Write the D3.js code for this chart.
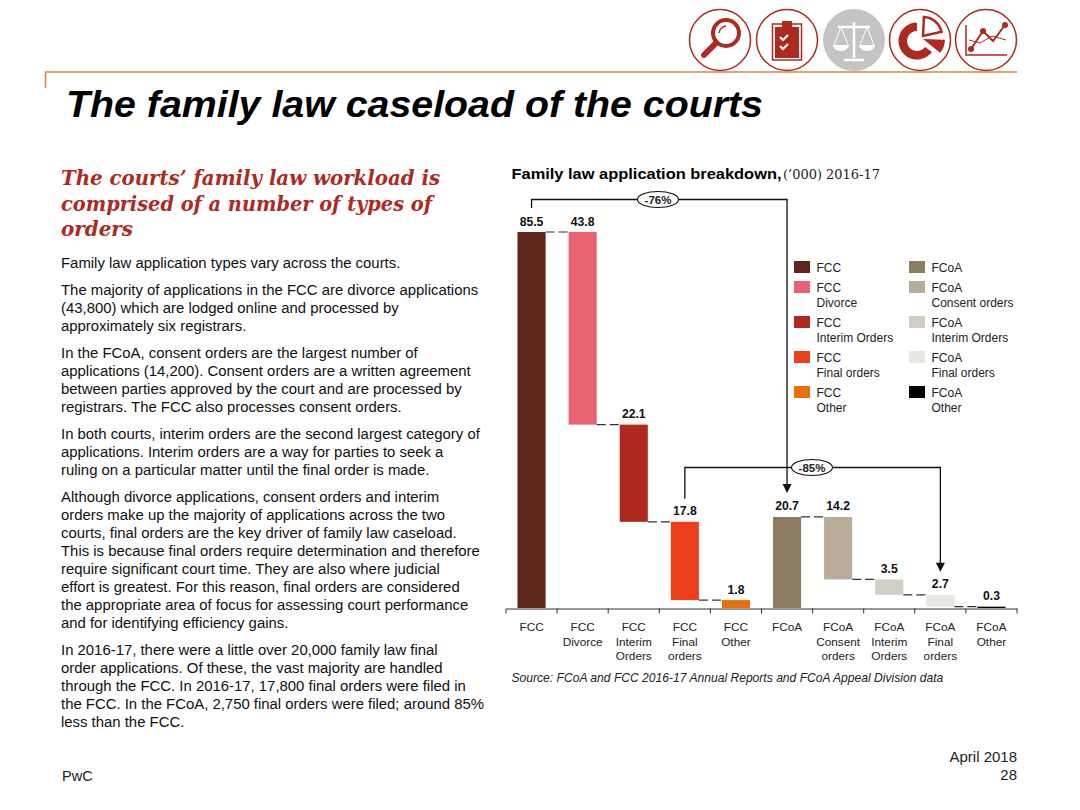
<!DOCTYPE html>
<html>
<head>
<meta charset="utf-8">
<script src="https://cdn.jsdelivr.net/npm/d3@7"></script>
<style>
  body { margin: 0; background: #fff; }
  svg { display: block; font-family: "Liberation Sans", sans-serif; }
</style>
</head>
<body>
<div id="chart"></div>
<script>
// chart data
const categories = ["FCC", "FCC Divorce", "FCC Interim", "FCC Final", "FCC Other", "FCoA", "FCoA Consent", "FCoA Interim", "FCoA Final", "FCoA Other"];
const tickLabels = [
    ["FCC"], ["FCC", "Divorce"], ["FCC", "Interim", "Orders"], ["FCC", "Final", "orders"], ["FCC", "Other"],
    ["FCoA"], ["FCoA", "Consent", "orders"], ["FCoA", "Interim", "Orders"], ["FCoA", "Final", "orders"], ["FCoA", "Other"]
];
const values = [85.5, 43.8, 22.1, 17.8, 1.8, 20.7, 14.2, 3.5, 2.7, 0.3];
const isTotal = [true, false, false, false, false, true, false, false, false, false];
const colors = ["#5f261b", "#e8636f", "#ae2a1e", "#ee3f1c", "#e8700c", "#8b7b60", "#b9ac98", "#d2cec6", "#e9e7e1", "#000000"];
const legendLabels = [
    ["FCC"], ["FCC", "Divorce"], ["FCC", "Interim Orders"], ["FCC", "Final orders"], ["FCC", "Other"],
    ["FCoA"], ["FCoA", "Consent orders"], ["FCoA", "Interim Orders"], ["FCoA", "Final orders"], ["FCoA", "Other"]
];

// slide text
const headingLines = ["The courts\u2019 family law workload is", "comprised of a number of types of", "orders"];
const headingWidths = [379, 371, 72];
const bodyLines = [
    [263, "Family law application types vary across the courts."],
    [290, "The majority of applications in the FCC are divorce applications"],
    [308, "(43,800) which are lodged online and processed by"],
    [326, "approximately six registrars."],
    [353, "In the FCoA, consent orders are the largest number of"],
    [371, "applications (14,200). Consent orders are a written agreement"],
    [389, "between parties approved by the court and are processed by"],
    [407, "registrars. The FCC also processes consent orders."],
    [434, "In both courts, interim orders are the second largest category of"],
    [452, "applications. Interim orders are a way for parties to seek a"],
    [470, "ruling on a particular matter until the final order is made."],
    [497, "Although divorce applications, consent orders and interim"],
    [515, "orders make up the majority of applications across the two"],
    [533, "courts, final orders are the key driver of family law caseload."],
    [551, "This is because final orders require determination and therefore"],
    [569, "require significant court time. They are also where judicial"],
    [587, "effort is greatest. For this reason, final orders are considered"],
    [605, "the appropriate area of focus for assessing court performance"],
    [623, "and for identifying efficiency gains."],
    [650, "In 2016-17, there were a little over 20,000 family law final"],
    [668, "order applications. Of these, the vast majority are handled"],
    [686, "through the FCC. In 2016-17, 17,800 final orders were filed in"],
    [704, "the FCC. In the FCoA, 2,750 final orders were filed; around 85%"],
    [722, "less than the FCC."]
];

const width = 1080;
const height = 810;
const red = "#ae2a1e";
const rule = "#d9873a";

const svg = d3.select("#chart").append("svg")
    .attr("width", width)
    .attr("height", height)
    .attr("viewBox", `0 0 ${width} ${height}`);

// scales
const xScale = d3.scaleBand().domain(categories).range([506, 1017]).paddingInner(0.45).paddingOuter(0.225);
const yScale = d3.scaleLinear().domain([0, 85.5]).range([608, 232]);

// waterfall: totals start from zero, the parts hang down from the running level
let running = 0;
const bars = categories.map((c, i) => {
    if (isTotal[i]) {
        running = values[i];
        return { c, i, top: values[i], bottom: 0, level: values[i], value: values[i] };
    }
    const top = running;
    running = top - values[i];
    return { c, i, top, bottom: running, level: running, value: values[i] };
});

// header rule
svg.append("path")
    .attr("d", "M45.5,88V72H1017")
    .attr("fill", "none")
    .attr("stroke", rule)
    .attr("stroke-width", 1.6);

// header icons
const icons = svg.append("g");
[720, 787, 854, 920, 986].forEach((cx, i) => {
    icons.append("circle")
        .attr("cx", cx).attr("cy", 40).attr("r", i === 2 ? 31 : 30.5)
        .attr("fill", i === 2 ? "#c4c4c4" : "#fff")
        .attr("stroke", i === 2 ? "none" : red)
        .attr("stroke-width", 1.5);
});
// magnifier
icons.append("circle").attr("cx", 726).attr("cy", 33).attr("r", 13).attr("fill", "none").attr("stroke", red).attr("stroke-width", 4);
icons.append("path").attr("d", "M716,43L704,55").attr("stroke", red).attr("stroke-width", 6).attr("stroke-linecap", "round");
icons.append("path").attr("d", "M719,33a8,8 0 0 1 7,-7").attr("fill", "none").attr("stroke", red).attr("stroke-width", 1.5);
// clipboard
icons.append("rect").attr("x", 772.5).attr("y", 24).attr("width", 29).attr("height", 36).attr("fill", "#fff").attr("stroke", red).attr("stroke-width", 1.5);
icons.append("rect").attr("x", 775).attr("y", 27).attr("width", 24).attr("height", 31).attr("fill", red);
icons.append("rect").attr("x", 782).attr("y", 21).attr("width", 10).attr("height", 6).attr("fill", red);
icons.append("path").attr("d", "M780,37l3,3l5,-5M780,46l3,3l5,-5").attr("fill", "none").attr("stroke", "#fff").attr("stroke-width", 2);
// scales of justice
icons.append("path").attr("d", "M854,22V58M844,60H864M838,27H870").attr("fill", "none").attr("stroke", "#fff").attr("stroke-width", 2.5);
icons.append("path").attr("d", "M833,45a8,6 0 0 0 16,0ZM859,45a8,6 0 0 0 16,0Z").attr("fill", "#fff");
icons.append("path").attr("d", "M841,27L834,45M841,27L848,45M867,27L860,45M867,27L874,45").attr("fill", "none").attr("stroke", "#fff").attr("stroke-width", 1);
// pie
const pieArc = d3.arc();
const pieParts = [
    { innerRadius: 10, outerRadius: 18.5, startAngle: 2.2, endAngle: 6.28, dx: 917, dy: 41 },
    { innerRadius: 0, outerRadius: 19, startAngle: 0.05, endAngle: 1.35, dx: 923, dy: 36 },
    { innerRadius: 0, outerRadius: 22, startAngle: 1.6, endAngle: 2.25, dx: 923, dy: 39 }
];
pieParts.forEach((p, i) => {
    icons.append("path")
        .attr("d", pieArc(p))
        .attr("transform", `translate(${p.dx},${p.dy})`)
        .attr("fill", i === 1 ? "#fff" : red)
        .attr("stroke", red)
        .attr("stroke-width", i === 1 ? 2.5 : 0);
});
// line chart icon
icons.append("path").attr("d", "M966,25V55H1007").attr("fill", "none").attr("stroke", red).attr("stroke-width", 1.5);
icons.append("path").attr("d", "M971,49L983,31L993,41L1005,25").attr("fill", "none").attr("stroke", red).attr("stroke-width", 2);
icons.append("path").attr("d", "M969,40L980,43L992,36L1006,40").attr("fill", "none").attr("stroke", red).attr("stroke-width", 1);
[[971, 49], [983, 31], [1005, 25]].forEach(([cx, cy]) => {
    icons.append("circle").attr("cx", cx).attr("cy", cy).attr("r", 3).attr("fill", red);
});

// title
svg.append("text")
    .attr("x", 66).attr("y", 117)
    .attr("font-size", 36).attr("font-weight", "bold").attr("font-style", "italic")
    .attr("textLength", 697).attr("lengthAdjust", "spacingAndGlyphs")
    .attr("fill", "#000")
    .text("The family law caseload of the courts");

// left heading
svg.selectAll(".heading").data(headingLines).join("text")
    .attr("class", "heading")
    .attr("x", 61)
    .attr("y", (d, i) => 185 + i * 25.5)
    .attr("font-family", "'DejaVu Serif', serif")
    .attr("font-size", 20)
    .attr("font-weight", "bold").attr("font-style", "italic")
    .attr("textLength", (d, i) => headingWidths[i]).attr("lengthAdjust", "spacingAndGlyphs")
    .attr("fill", red)
    .text(d => d);

// left body text
svg.selectAll(".body").data(bodyLines).join("text")
    .attr("class", "body")
    .attr("x", 61)
    .attr("y", d => d[0] + 5)
    .attr("font-size", 14.9)
    .attr("fill", "#111")
    .text(d => d[1]);

// chart title
svg.append("text")
    .attr("x", 511.5).attr("y", 179)
    .attr("font-size", 14).attr("font-weight", "bold")
    .attr("textLength", 270).attr("lengthAdjust", "spacingAndGlyphs")
    .attr("fill", "#000")
    .text("Family law application breakdown,");
svg.append("text")
    .attr("x", 783).attr("y", 179)
    .attr("font-family", "'DejaVu Serif', serif").attr("font-size", 13)
    .attr("textLength", 97).attr("lengthAdjust", "spacingAndGlyphs")
    .attr("fill", "#222")
    .text("(\u2019000) 2016-17");

// bars
svg.selectAll(".bar").data(bars).join("rect")
    .attr("class", "bar")
    .attr("x", d => xScale(d.c))
    .attr("y", d => yScale(d.top))
    .attr("width", xScale.bandwidth())
    .attr("height", d => yScale(d.bottom) - yScale(d.top))
    .attr("fill", (d, i) => colors[i]);

// dashed connectors between bars (none between the two courts)
svg.selectAll(".connector").data(bars.slice(0, -1).filter(d => !isTotal[d.i + 1])).join("line")
    .attr("class", "connector")
    .attr("x1", d => xScale(d.c) + xScale.bandwidth())
    .attr("x2", d => xScale(categories[d.i + 1]))
    .attr("y1", d => yScale(d.level))
    .attr("y2", d => yScale(d.level))
    .attr("stroke", "#333")
    .attr("stroke-width", 1.2)
    .attr("stroke-dasharray", "9 4");

// value labels
svg.selectAll(".value").data(bars).join("text")
    .attr("class", "value")
    .attr("x", d => xScale(d.c) + xScale.bandwidth() / 2)
    .attr("y", d => yScale(d.top) - 6.5)
    .attr("text-anchor", "middle")
    .attr("font-size", 12.2)
    .attr("font-weight", "bold")
    .attr("fill", "#111")
    .text(d => d.value.toFixed(1));

// axis with ticks on band edges
const axisG = svg.append("g").attr("transform", "translate(0,608.5)");
axisG.call(d3.axisBottom(xScale).tickSize(0).tickFormat(""));
axisG.select(".domain").attr("stroke", "#333");
const edgeScale = d3.scaleLinear().domain([0, categories.length]).range(xScale.range());
axisG.selectAll(".edge").data(d3.range(categories.length + 1)).join("line")
    .attr("class", "edge")
    .attr("x1", d => edgeScale(d)).attr("x2", d => edgeScale(d))
    .attr("y1", 0).attr("y2", 5)
    .attr("stroke", "#333");

// multi line tick labels
const tickGroups = svg.selectAll(".tick-label").data(tickLabels).join("text")
    .attr("class", "tick-label")
    .attr("text-anchor", "middle")
    .attr("font-size", 11.8)
    .attr("fill", "#222");
tickGroups.selectAll("tspan").data((d, i) => d.map(t => ({ t, i }))).join("tspan")
    .attr("x", d => xScale(categories[d.i]) + xScale.bandwidth() / 2)
    .attr("y", (d, j) => 631 + j * 14.5)
    .text(d => d.t);

// brackets with percentage ovals
const bracket = (fromIdx, toIdx, lineY, startGap, tipGap, label, ovalX) => {
    const x1 = xScale(categories[fromIdx]) + xScale.bandwidth() / 2;
    const x2 = xScale(categories[toIdx]) + xScale.bandwidth() / 2;
    const fromTop = yScale(bars[fromIdx].top) - startGap;
    const tipY = yScale(bars[toIdx].top) - tipGap;
    svg.append("path")
        .attr("d", `M${x1},${fromTop}V${lineY}H${x2}V${tipY - 8}`)
        .attr("fill", "none").attr("stroke", "#111").attr("stroke-width", 1.3);
    svg.append("path")
        .attr("d", `M${x2 - 4.5},${tipY - 9}H${x2 + 4.5}L${x2},${tipY}Z`)
        .attr("fill", "#111");
    svg.append("ellipse")
        .attr("cx", ovalX).attr("cy", lineY).attr("rx", 20.5).attr("ry", 8)
        .attr("fill", "#fff").attr("stroke", "#111").attr("stroke-width", 1.1);
    svg.append("text")
        .attr("x", ovalX).attr("y", lineY + 4)
        .attr("text-anchor", "middle")
        .attr("font-size", 11.5).attr("font-weight", "bold").attr("fill", "#222")
        .text(label);
};
bracket(0, 5, 199.5, 24, 24, "-76%", 658);
bracket(3, 8, 467.5, 23, 23, "-85%", 812);

// legend
const legendX = [794, 909];
const legendY = [261, 281, 316, 351, 386];
const legend = svg.selectAll(".legend").data(legendLabels).join("g")
    .attr("class", "legend")
    .attr("transform", (d, i) => `translate(${legendX[Math.floor(i / 5)]},${legendY[i % 5]})`);
legend.append("rect")
    .attr("width", 16).attr("height", 12)
    .attr("fill", (d, i) => colors[i]);
legend.selectAll("text").data(d => d).join("text")
    .attr("x", 22.5)
    .attr("y", (d, j) => 10.5 + j * 15)
    .attr("font-size", 12)
    .attr("fill", "#222")
    .text(d => d);

// source
svg.append("text")
    .attr("x", 511.5).attr("y", 682)
    .attr("font-size", 12.1).attr("font-style", "italic").attr("fill", "#222")
    .text("Source: FCoA and FCC 2016-17 Annual Reports and FCoA Appeal Division data");

// footer
svg.append("text").attr("x", 62).attr("y", 781).attr("font-size", 14.5).attr("fill", "#222").text("PwC");
svg.append("text").attr("x", 1017).attr("y", 762).attr("text-anchor", "end").attr("font-size", 15).attr("fill", "#222").text("April 2018");
svg.append("text").attr("x", 1017).attr("y", 780).attr("text-anchor", "end").attr("font-size", 15).attr("fill", "#222").text("28");
</script>
</body>
</html>
